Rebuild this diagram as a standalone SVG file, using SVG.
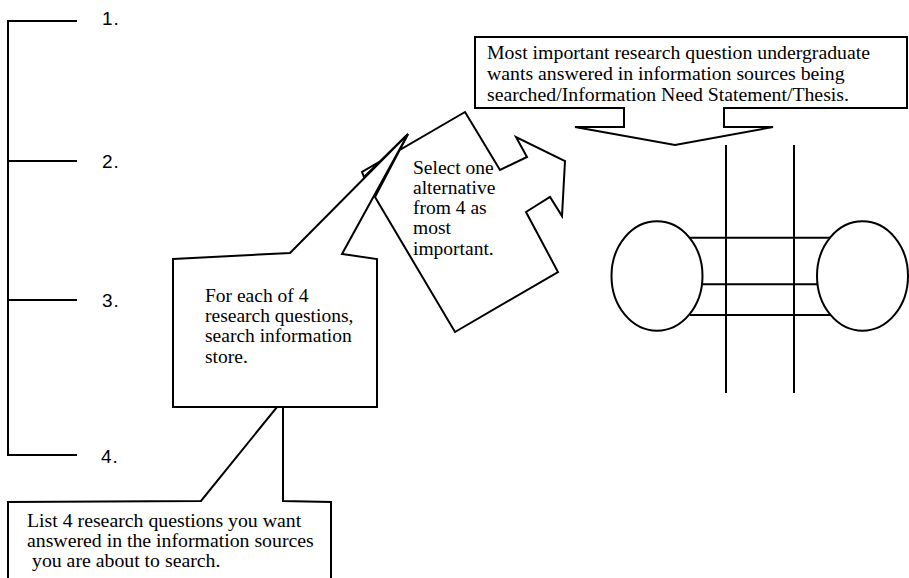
<svg xmlns="http://www.w3.org/2000/svg" width="909" height="578" viewBox="0 0 909 578">
  <style>
    .shape { fill: #ffffff; stroke: #000000; stroke-width: 2; stroke-linejoin: miter; }
    .line { fill: none; stroke: #000000; stroke-width: 2; }
    .serif { font-family: "Liberation Serif", "Times New Roman", serif; font-size: 19.5px; fill: #000000; }
    .wide { font-size: 19.8px; }
    .num { font-family: "Liberation Sans", Arial, sans-serif; font-size: 19px; letter-spacing: 1px; fill: #000000; }
  </style>
  <rect x="0" y="0" width="909" height="578" fill="#ffffff"/>

  <!-- numbered bracket for the four questions -->
  <g id="question-list">
    <path class="line" d="M8,21 V455 M7,21 H77 M7,161 H77 M7,300 H77 M7,455 H77"/>
    <text class="num" x="102" y="25">1.</text>
    <text class="num" x="102" y="168">2.</text>
    <text class="num" x="102" y="307">3.</text>
    <text class="num" x="101" y="463">4.</text>
  </g>

  <!-- rotated callout with block-arrow pointer -->
  <g id="select-one">
    <polygon class="shape" points="465,112 500,170 527,157 516,137 565,161 562,216 550,197 526,212 558,272 455,332 375,197 408,134 364,177 362,172"/>
    <text class="serif">
      <tspan x="413" y="174">Select one</tspan>
      <tspan x="413" y="194">alternative</tspan>
      <tspan x="413" y="214">from 4 as</tspan>
      <tspan x="413" y="234">most</tspan>
      <tspan x="413" y="255">important.</tspan>
    </text>
  </g>

  <!-- search callout, pointing up towards the selection step -->
  <g id="for-each">
    <polygon class="shape" points="173,259 290,253 408,134 342,254 377,259 377,407 173,407"/>
    <text class="serif">
      <tspan x="205" y="302">For each of 4</tspan>
      <tspan x="205" y="322">research questions,</tspan>
      <tspan x="205" y="342">search information</tspan>
      <tspan x="205" y="363">store.</tspan>
    </text>
  </g>

  <!-- list callout at the bottom -->
  <g id="list-questions">
    <polygon class="shape" points="8,502 201,501 277,407 283,407 283,501 331,502 331,590 8,590"/>
    <text class="serif wide">
      <tspan x="27" y="527">List 4 research questions you want</tspan>
      <tspan x="27" y="547">answered in the information sources</tspan>
      <tspan x="32" y="567">you are about to search.</tspan>
    </text>
  </g>

  <!-- thesis statement callout at the top -->
  <g id="thesis">
    <polygon class="shape" points="475,37 907,37 907,108 724,108 724,127 773,127 675,145 575,127 624,127 624,108 475,108"/>
    <text class="serif wide">
      <tspan x="487" y="59">Most important research question undergraduate</tspan>
      <tspan x="487" y="80">wants answered in information sources being</tspan>
      <tspan x="487" y="101">searched/Information Need Statement/Thesis.</tspan>
    </text>
  </g>

  <!-- two concept ellipses -->
  <g id="concept-left">
    <ellipse class="shape" cx="657" cy="276" rx="45.5" ry="54.7"/>
  </g>
  <g id="concept-right">
    <ellipse class="shape" cx="862.5" cy="276" rx="45.5" ry="54.7"/>
  </g>

  <!-- links between the ellipses and the two crossing verticals -->
  <g id="connectors">
    <path class="line" d="M690,237.7 H830 M702.5,284.3 H817.3 M690,315 H830"/>
    <path class="line" d="M726,145 V393 M794,145 V393"/>
  </g>
</svg>
